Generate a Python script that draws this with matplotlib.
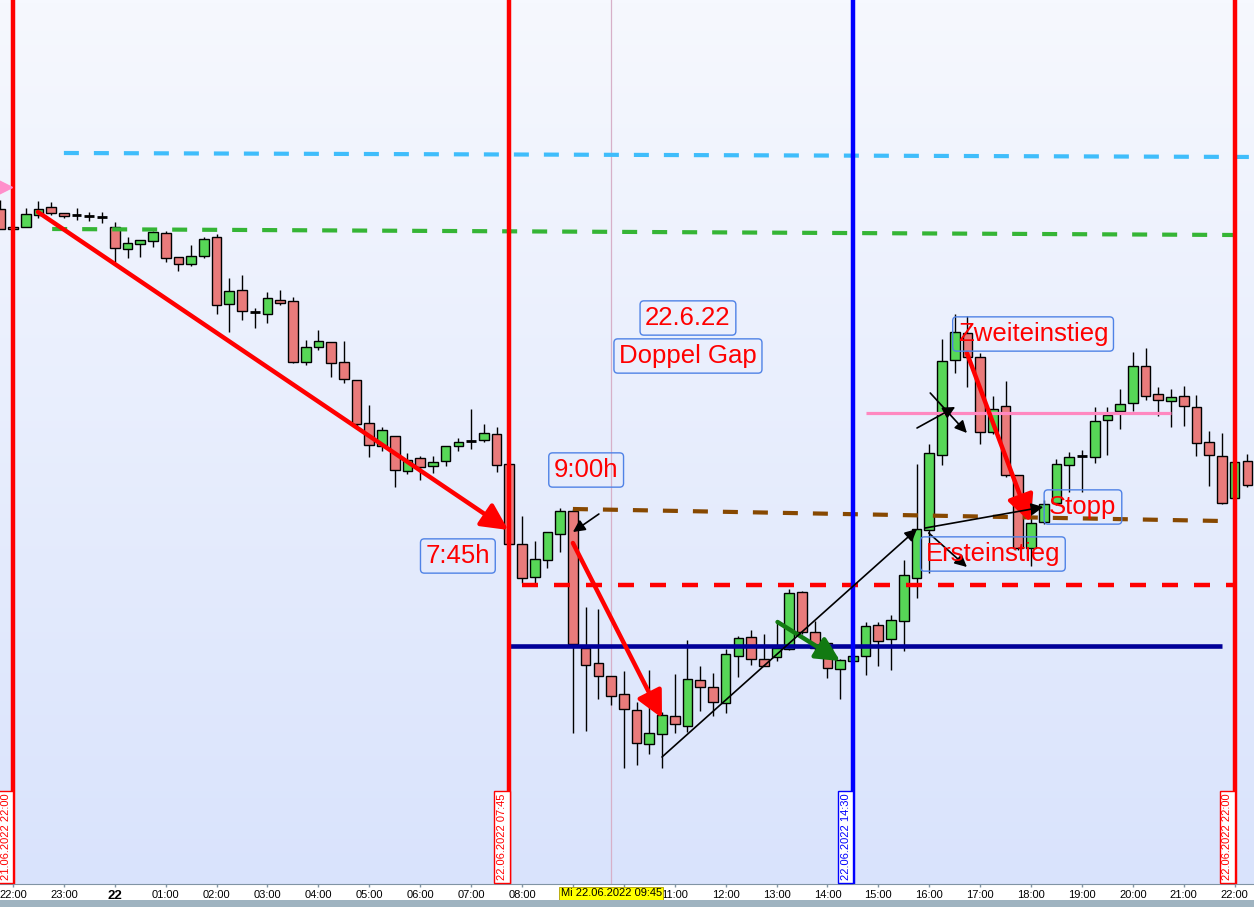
import numpy as np
import matplotlib
matplotlib.use("Agg")
import matplotlib.pyplot as plt
import matplotlib.transforms as mtransforms
from matplotlib.colors import LinearSegmentedColormap
from matplotlib.patches import Rectangle

plt.rcParams['font.family'] = ['Liberation Sans', 'DejaVu Sans']

# 15-min candles, time in hours after 21.06.2022 22:00 (first candle at -0.25)
opens = [13291, 13273, 13273, 13285, 13293, 13287, 13285, 13284, 13283, 13273,
         13251, 13256, 13259, 13267, 13243, 13236, 13244, 13263, 13196, 13210,
         13188, 13186, 13200, 13199, 13138, 13153, 13158, 13138, 13120, 13077,
         13054, 13064, 13029, 13042, 13034, 13039, 13054, 13059, 13060, 13066,
         13036, 12956, 12923, 12940, 12966, 12989, 12852, 12837, 12824, 12806,
         12790, 12756, 12766, 12784, 12774, 12820, 12813, 12797, 12844, 12863,
         12841, 12843, 12851, 12908, 12868, 12857, 12831, 12839, 12844, 12875,
         12861, 12879, 12922, 12970, 13045, 13140, 13167, 13143, 13068, 13094,
         13025, 12952, 12978, 12997, 13035, 13044, 13043, 13080, 13089, 13097,
         13134, 13106, 13099, 13104, 13093, 13058, 13044, 13002, 13039]
highs = [13300, 13273, 13292, 13299, 13298, 13287, 13292, 13288, 13288, 13278,
         13263, 13260, 13269, 13269, 13243, 13255, 13263, 13266, 13222, 13225,
         13192, 13208, 13210, 13203, 13160, 13170, 13158, 13159, 13120, 13095,
         13073, 13064, 13047, 13044, 13044, 13054, 13062, 13091, 13076, 13073,
         13036, 12984, 12959, 12968, 12992, 12991, 12893, 12891, 12824, 12829,
         12798, 12830, 12788, 12826, 12860, 12834, 12827, 12851, 12864, 12870,
         12866, 12877, 12911, 12909, 12879, 12857, 12841, 12846, 12878, 12878,
         12885, 12940, 13036, 13056, 13161, 13186, 13184, 13147, 13104, 13119,
         13025, 13007, 13000, 13041, 13048, 13050, 13093, 13093, 13111, 13148,
         13152, 13113, 13111, 13114, 13105, 13069, 13067, 13045, 13046]
lows = [13271, 13271, 13273, 13282, 13285, 13282, 13280, 13279, 13277, 13238,
        13242, 13243, 13253, 13238, 13229, 13234, 13242, 13186, 13168, 13180,
        13172, 13177, 13195, 13137, 13135, 13150, 13123, 13117, 13074, 13043,
        13049, 13013, 13026, 13020, 13027, 13034, 13049, 13051, 13058, 13028,
        12956, 12917, 12917, 12932, 12948, 12767, 12769, 12801, 12795, 12732,
        12735, 12746, 12732, 12767, 12768, 12789, 12784, 12787, 12823, 12835,
        12834, 12839, 12850, 12866, 12850, 12822, 12801, 12837, 12825, 12834,
        12830, 12849, 12902, 12927, 13035, 13127, 13113, 13056, 13066, 13023,
        12950, 12934, 12976, 12995, 13008, 13008, 13037, 13045, 13071, 13089,
        13100, 13084, 13073, 13074, 13044, 13014, 12996, 13000, 13013]
closes = [13271, 13271, 13286, 13291, 13287, 13284, 13284, 13283, 13283, 13252,
          13257, 13260, 13268, 13242, 13236, 13244, 13261, 13195, 13209, 13189,
          13187, 13202, 13197, 13138, 13153, 13159, 13137, 13121, 13076, 13055,
          13070, 13030, 13040, 13033, 13038, 13054, 13058, 13060, 13067, 13035,
          12956, 12922, 12941, 12968, 12989, 12856, 12835, 12824, 12804, 12791,
          12757, 12767, 12785, 12776, 12821, 12813, 12798, 12846, 12862, 12841,
          12834, 12852, 12907, 12868, 12852, 12832, 12840, 12844, 12874, 12859,
          12880, 12925, 12971, 13047, 13139, 13168, 13143, 13068, 13091, 13025,
          12952, 12977, 12996, 13036, 13043, 13044, 13079, 13085, 13096, 13134,
          13104, 13100, 13103, 13094, 13057, 13045, 12997, 13038, 13015]

# 09:00 and 10:00 are hidden behind the crosshair date label
hour_labels = ['22:00', '23:00', '22', '01:00', '02:00', '03:00', '04:00', '05:00',
               '06:00', '07:00', '08:00', '', '', '11:00', '12:00', '13:00',
               '14:00', '15:00', '16:00', '17:00', '18:00', '19:00', '20:00', '21:00', '22:00']

# marker lines (hours) and their date labels
vlines_h = [0.0, 9.75, 16.5, 24.0]
vlines_txt = ['21.06.2022 22:00', '22.06.2022 07:45', '22.06.2022 14:30', '22.06.2022 22:00']
vlines_col = ['#FF0000', '#FF0000', '#0000FF', '#FF0000']

# horizontal levels: (h0, h1, p0, p1)
level_cyan = (1.0, 24.5, 13347, 13343)
level_green = (0.77, 24.0, 13271, 13265)
level_brown = (11.0, 23.75, 12991, 12979)
level_red = (10.0, 24.0, 12915, 12915)
level_navy = (9.75, 23.75, 12854, 12854)
level_pink = (16.76, 22.75, 13087, 13087)

# arrows: (h_start, p_start, h_end, p_end)
red_arrows = [(0.49, 13288, 9.73, 12970),
              (11.0, 12957, 12.75, 12782),
              (18.74, 13147, 19.98, 12978)]
green_arrows = [(15.02, 12878, 16.25, 12839)]
black_arrows = [(11.51, 12986, 11.0, 12968),
                (12.75, 12743, 17.76, 12971),
                (17.92, 12972, 20.24, 12993),
                (17.99, 12967, 18.74, 12933),
                (17.76, 13072, 18.51, 13093),
                (18.02, 13107, 18.74, 13067)]

# text boxes: (text, h, price)
notes = [('22.6.22', 13.26, 13182),
         ('Doppel Gap', 13.26, 13144),
         ('9:00h', 11.26, 13030),
         ('7:45h', 8.74, 12944),
         ('Zweiteinstieg', 20.04, 13166),
         ('Stopp', 21.02, 12993),
         ('Ersteinstieg', 19.25, 12946)]

fig = plt.figure(figsize=(12.54, 9.07), dpi=100)
fig.patch.set_facecolor('white')
ax = fig.add_axes([0, 23 / 907, 1, 884 / 907])

bg = LinearSegmentedColormap.from_list('bg', ['#F6F8FE', '#D9E3FC'])
ax.imshow(np.linspace(0, 1, 256).reshape(-1, 1), cmap=bg, aspect='auto',
          extent=[0, 1, 0, 1], transform=ax.transAxes, zorder=0)

t = np.arange(len(opens)) * 0.25 - 0.25
o = np.array(opens); h = np.array(highs); l = np.array(lows); c = np.array(closes)
w = 0.19

# candles
ax.vlines(t, l, h, color='black', lw=1, zorder=3)
for ti, oi, ci in zip(t, o, c):
    if abs(ci - oi) <= 1.5:
        ax.hlines(oi, ti - w / 2, ti + w / 2, color='black', lw=2, zorder=4)
    else:
        col = '#57D757' if ci > oi else '#E97B7B'
        ax.add_patch(Rectangle((ti - w / 2, min(oi, ci)), w, abs(ci - oi),
                               fc=col, ec='black', lw=1, zorder=4))

# horizontal levels
dash = (0, (3.6, 3.6))
for lev, col, ls, lw in [(level_cyan, '#3FBDFB', dash, 3),
                         (level_green, '#35B535', dash, 3),
                         (level_brown, '#874800', dash, 3),
                         (level_red, '#FF0000', dash, 3.2),
                         (level_navy, '#000099', '-', 3.3),
                         (level_pink, '#FF88C0', '-', 2.3)]:
    ax.plot([lev[0], lev[1]], [lev[2], lev[3]], color=col, ls=ls, lw=lw,
            zorder=5, solid_capstyle='butt')

# vertical lines
trans = mtransforms.blended_transform_factory(ax.transData, ax.transAxes)
for hv, txt, col in zip(vlines_h, vlines_txt, vlines_col):
    ax.axvline(hv, color=col, lw=3.2, zorder=6)
    ax.text(hv - 0.045, 0.004, txt, transform=trans, rotation=90, ha='right',
            va='bottom', fontsize=8, color=col, zorder=7, clip_on=False,
            bbox=dict(boxstyle='square,pad=0.25', fc='white', ec=col, lw=1))

# crosshair at 09:45
ax.axvline(11.75, color='#D7B0C8', lw=0.9, zorder=2)
ax.text(11.75, -0.0105, 'Mi 22.06.2022 09:45', transform=trans, ha='center',
        va='center', fontsize=8, color='black', zorder=10, clip_on=False,
        bbox=dict(boxstyle='square,pad=0.12', fc='#FFFF00', ec='#B0A000', lw=0.6))

# pink price marker at left edge
ax.plot(-0.17, 13313, marker='>', ms=12, color='#FF8FCB', clip_on=False, zorder=6)

def arrow(a, col, lw, ms):
    ax.annotate('', xy=(a[2], a[3]), xytext=(a[0], a[1]),
                arrowprops=dict(arrowstyle='-|>', color=col, lw=lw, mutation_scale=ms,
                                shrinkA=0, shrinkB=0), zorder=8)

for a in red_arrows:
    arrow(a, '#FF0000', 3.2, 40)
for a in green_arrows:
    arrow(a, '#127A12', 3.2, 36)
for a in black_arrows:
    arrow(a, 'black', 1.2, 18)

for txt, hx, py in notes:
    ax.text(hx, py, txt, ha='center', va='center', fontsize=18.5, color='#FF0000',
            zorder=9, bbox=dict(boxstyle='round,pad=0.2,rounding_size=0.15',
                                fc='none', ec='#4F82E6', lw=1))

ax.set_xlim(-0.255, 24.38)
ax.set_ylim(12616, 13500)
ax.set_yticks([])
ax.set_xticks(range(25))
ax.set_xticklabels(hour_labels)
ax.tick_params(axis='x', length=2.5, width=1, color='#8094A4', labelsize=8, pad=1.5)
lab = ax.get_xticklabels()[2]
lab.set_fontweight('bold')
lab.set_fontsize(9.5)
for s in ['top', 'left', 'right']:
    ax.spines[s].set_visible(False)
ax.spines['bottom'].set_color('#8094A4')

fig.add_artist(Rectangle((0, 0), 1, 7 / 907, transform=fig.transFigure,
                         fc='#9FB3C0', ec='none'))

fig.savefig('out.png', dpi=100)
